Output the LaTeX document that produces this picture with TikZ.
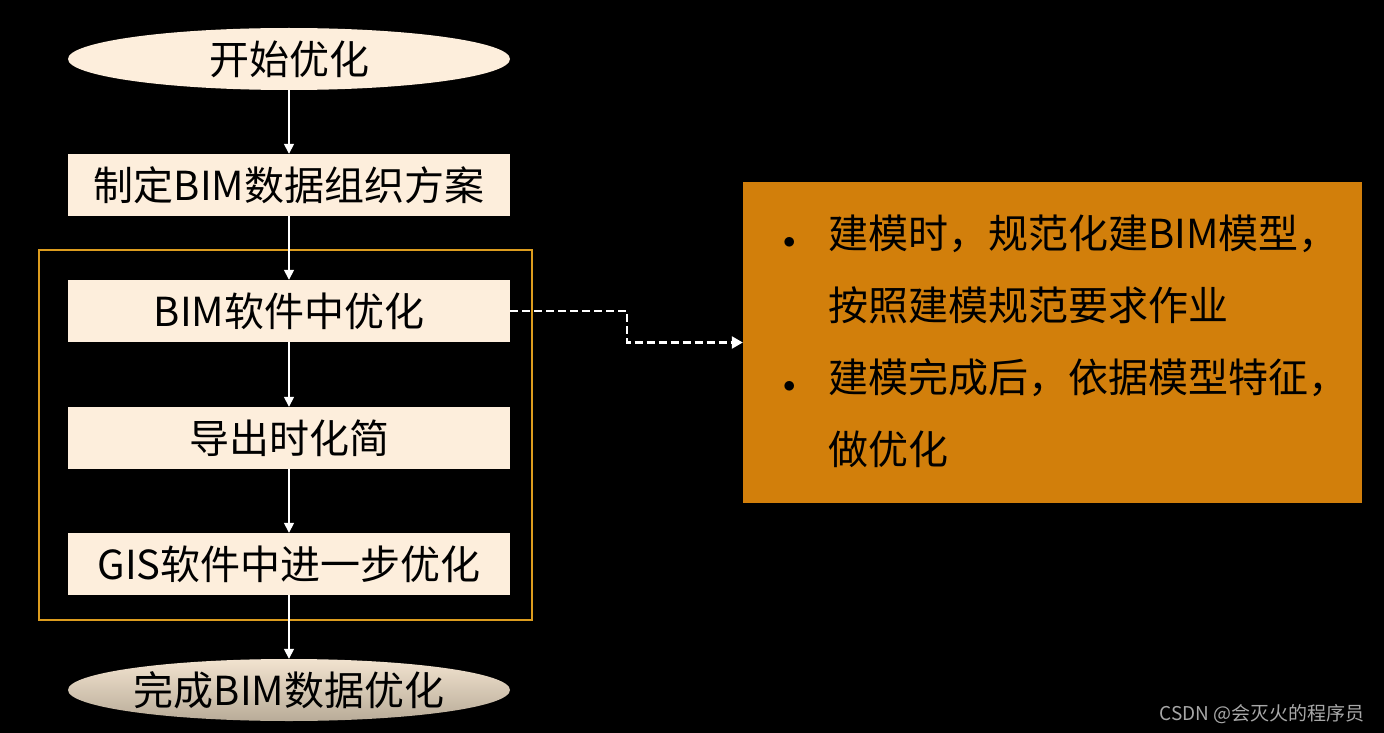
\documentclass[tikz,border=0pt]{standalone}
\usepackage{fontspec}
\setmainfont{Noto Sans CJK SC}
\usetikzlibrary{shapes.geometric,arrows.meta}
\definecolor{cream}{HTML}{FDEEDC}
\definecolor{sand}{HTML}{D9CAB3}
\definecolor{gold}{HTML}{DC9C1E}
\definecolor{amber}{HTML}{D27F0B}
\definecolor{mark}{HTML}{A8A8A8}
\begin{document}
\begin{tikzpicture}[x=1pt,y=-1pt]
        \tikzstyle{startend}=[ellipse, fill=cream, minimum width=442pt,
            minimum height=62pt, inner sep=0pt, font=\fontsize{40}{46}\selectfont]
        \tikzstyle{proc}=[rectangle, fill=cream, minimum width=442pt,
            minimum height=62pt, inner sep=0pt, font=\fontsize{40}{46}\selectfont]
        \tikzstyle{note}=[rectangle, fill=amber, minimum width=619pt,
            minimum height=321pt, text width=555pt, inner xsep=32pt,
            inner ysep=0pt, align=left, font=\fontsize{40}{72}\selectfont]
        \tikzstyle{flow}=[draw=white, line width=1.6pt,
            -{Triangle[width=10pt,length=10pt]}]
        \tikzstyle{link}=[flow, line width=2.4pt, dash pattern=on 8pt off 4pt,
            -{Triangle[width=12pt,length=11pt]}]

        \fill[black] (0,0) rectangle (1384,733);
        \useasboundingbox (0,0) rectangle (1384,733);

        \node[draw=gold, line width=1.6pt, minimum width=493pt,
            minimum height=370pt] (frame) at (285.5, 435) {};

        \node[startend] (start) at (289, 59) {开始优化};
        \node[proc] (plan) at (289, 185) {制定BIM数据组织方案};
        \node[proc] (bim) at (289, 311) {BIM软件中优化};
        \node[proc] (export) at (289, 438) {导出时化简};
        \node[proc] (gis) at (289, 564) {GIS软件中进一步优化};
        \node[startend, fill=none, top color=cream!70!sand, bottom color=sand!85!black]
            (done) at (289, 690) {完成BIM数据优化};

        \node[note] (note) at (1052.5, 342.5) {%
            \begin{tabular}{@{}p{53pt}@{}l@{}}
            \hspace{8pt}{\fontsize{26}{26}\selectfont$\bullet$} & 建模时，规范化建BIM模型， \\
            & 按照建模规范要求作业 \\
            \hspace{8pt}{\fontsize{26}{26}\selectfont$\bullet$} & 建模完成后，依据模型特征， \\
            & 做优化
            \end{tabular}};

        \coordinate (bend) at (627, 311);
        \node[text=mark, font=\fontsize{19}{22}\selectfont] (csdn) at (1262, 714)
            {CSDN @会灭火的程序员};

        \draw[flow] (start) to (plan);
        \draw[flow] (plan) to (bim);
        \draw[flow] (bim) to (export);
        \draw[flow] (export) to (gis);
        \draw[flow] (gis) to (done);
        \draw[link] (bim.east) -- (bend) |- (note.west);

    \end{tikzpicture}
\end{document}
